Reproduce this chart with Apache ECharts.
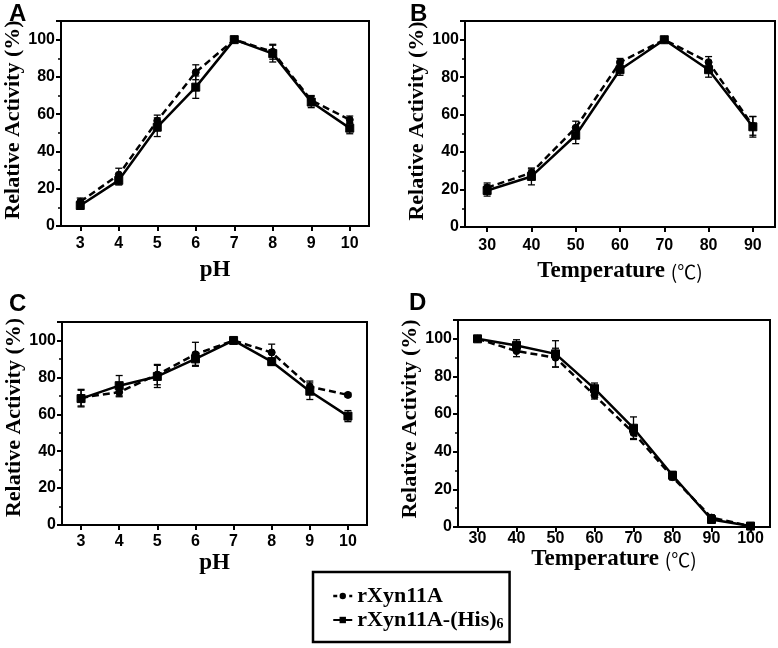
<!DOCTYPE html>
<html>
<head>
<meta charset="utf-8">
<script src="https://cdn.jsdelivr.net/npm/echarts@6/dist/echarts.min.js"></script>
<style>
  html, body { margin: 0; padding: 0; background: #fff; }
  #chart { width: 778px; height: 648px; }
</style>
</head>
<body>
<div id="chart"></div>
<script>
// ---- Data ----
const phCats = ['3', '4', '5', '6', '7', '8', '9', '10'];
const tempCatsB = ['30', '40', '50', '60', '70', '80', '90'];
const tempCatsD = ['30', '40', '50', '60', '70', '80', '90', '100'];
const yTicks = [0, 20, 40, 60, 80, 100];

// A: optimum pH
const A_native = [13, 27.5, 56.5, 82.5, 100, 93.5, 67.5, 57];
const A_nativeErr = [2, 3.5, 3, 4, 0.5, 4, 2.5, 2];
const A_his = [11, 24.5, 53, 74.5, 100, 92.5, 66.5, 52.5];
const A_hisErr = [2, 2.5, 5, 6, 0.5, 4.5, 3, 3];

// B: optimum temperature
const B_native = [21, 29, 53, 88, 100, 88, 54];
const B_nativeErr = [2.5, 2, 3.5, 2, 0.5, 3, 5];
const B_his = [19.5, 27, 49, 84, 100, 84, 53.5];
const B_hisErr = [3, 4.5, 4.5, 3, 0.5, 4, 5.5];

// C: pH stability
const C_native = [69, 72, 81.5, 92.5, 100, 93.5, 75, 70.5];
const C_nativeErr = [4.5, 2.5, 5.5, 6.5, 0.5, 4.5, 3, 1];
const C_his = [68.5, 75.5, 80.5, 90, 100, 88.5, 72.5, 59];
const C_hisErr = [4.5, 5.5, 6, 3.5, 0.5, 2, 4.5, 3];

// D: thermostability
const D_native = [100, 93.5, 90, 70, 50, 26.5, 5, 0.5];
const D_nativeErr = [0.5, 3, 5, 2, 3, 1.5, 1.5, 0.5];
const D_his = [100, 96.5, 92, 73.5, 52.5, 27.5, 4, 0.5];
const D_hisErr = [0.5, 3, 7, 3, 6, 2, 1.5, 0.5];

const NAME_NATIVE = 'rXyn11A';
const NAME_HIS = 'rXyn11A-(His)6';

// ---- Layout ----
const SERIF = '"Liberation Serif", "Times New Roman", Times, serif';
const SANS = '"Liberation Sans", Arial, Helvetica, sans-serif';

const panels = [
  { letter: 'A', cats: phCats, xName: 'pH', native: A_native, nErr: A_nativeErr, his: A_his, hErr: A_hisErr,
    grid: { left: 61, top: 21, width: 308, height: 205 }, labelMargin: 10, nameGap: 33, yGap: 20, yShift: 7, letterPos: [9, 2] },
  { letter: 'B', cats: tempCatsB, xName: 'Temperature {c|(℃)}', native: B_native, nErr: B_nativeErr, his: B_his, hErr: B_hisErr,
    grid: { left: 465, top: 21, width: 310, height: 206 }, labelMargin: 11, nameGap: 33, yGap: 29, yShift: 6, letterPos: [410, 2] },
  { letter: 'C', cats: phCats, xName: 'pH', native: C_native, nErr: C_nativeErr, his: C_his, hErr: C_hisErr,
    grid: { left: 62, top: 322, width: 305, height: 203 }, labelMargin: 9, nameGap: 27, yGap: 22, yShift: 12, letterPos: [9, 292] },
  { letter: 'D', cats: tempCatsD, xName: 'Temperature {c|(℃)}', native: D_native, nErr: D_nativeErr, his: D_his, hErr: D_hisErr,
    grid: { left: 458, top: 320, width: 312, height: 207 }, labelMargin: 4, nameGap: 20, yGap: 22, yShift: 9, letterPos: [409, 291] }
];

function errorRender(params, api) {
  const x = api.value(0), y = api.value(1), e = api.value(2);
  const top = api.coord([x, y + e]);
  const bot = api.coord([x, y - e]);
  const w = 3.5;
  const st = { stroke: '#000', lineWidth: 1.3 };
  return {
    type: 'group',
    children: [
      { type: 'line', shape: { x1: top[0], y1: top[1], x2: bot[0], y2: bot[1] }, style: st },
      { type: 'line', shape: { x1: top[0] - w, y1: top[1], x2: top[0] + w, y2: top[1] }, style: st },
      { type: 'line', shape: { x1: bot[0] - w, y1: bot[1], x2: bot[0] + w, y2: bot[1] }, style: st }
    ]
  };
}

const grids = [], xAxes = [], yAxes = [], series = [], titles = [];
panels.forEach((p, i) => {
  grids.push(Object.assign({ show: true, borderColor: '#000', borderWidth: 2, backgroundColor: '#fff',
    containLabel: false, outerBoundsMode: 'none' }, p.grid));
  titles.push({ text: p.letter, left: p.letterPos[0], top: p.letterPos[1], padding: 0,
    textStyle: { fontFamily: SANS, fontWeight: 'bold', fontSize: 24, color: '#000' } });
  xAxes.push({
    gridIndex: i, type: 'category', data: p.cats, boundaryGap: true,
    name: p.xName, nameLocation: 'middle', nameGap: p.nameGap,
    nameTextStyle: { fontFamily: SERIF, fontWeight: 'bold', fontSize: 23, color: '#000',
      rich: { c: { fontFamily: '"Noto Sans CJK SC", "DejaVu Sans", sans-serif', fontWeight: 'normal', fontSize: 19, color: '#000' } } },
    axisLine: { show: true, lineStyle: { color: '#000', width: 2 } },
    axisTick: { show: true, alignWithLabel: true, inside: false, length: 5, lineStyle: { color: '#000', width: 2 } },
    axisLabel: { show: true, margin: p.labelMargin, color: '#000', fontFamily: SANS, fontWeight: 'bold', fontSize: 16 },
    splitLine: { show: false }
  });
  yAxes.push({
    gridIndex: i, type: 'value', min: 0, max: 110, interval: 20,
    name: 'Relative Activity (%)', nameLocation: 'middle', nameGap: p.yGap,
    nameTextStyle: { fontFamily: SERIF, fontWeight: 'bold', fontSize: 22, color: '#000', padding: [0, 0, 0, p.yShift] },
    axisLine: { show: true, lineStyle: { color: '#000', width: 2 } },
    axisTick: { show: true, inside: false, length: 5, lineStyle: { color: '#000', width: 2 } },
    minorTick: { show: true, splitNumber: 2, length: 3, lineStyle: { color: '#000', width: 1.5 } },
    axisLabel: { show: true, margin: 6, color: '#000', fontFamily: SANS, fontWeight: 'bold', fontSize: 16,
      showMaxLabel: false, formatter: v => (yTicks.indexOf(v) >= 0 ? String(v) : '') },
    splitLine: { show: false }, minorSplitLine: { show: false }
  });
  // error bars
  series.push({
    type: 'custom', name: 'err-native-' + p.letter, xAxisIndex: i, yAxisIndex: i, z: 2,
    renderItem: errorRender, encode: { x: 0, y: 1 }, silent: true,
    data: p.native.map((v, k) => [k, v, p.nErr[k]])
  });
  series.push({
    type: 'custom', name: 'err-his-' + p.letter, xAxisIndex: i, yAxisIndex: i, z: 2,
    renderItem: errorRender, encode: { x: 0, y: 1 }, silent: true,
    data: p.his.map((v, k) => [k, v, p.hErr[k]])
  });
  series.push({
    type: 'line', name: NAME_NATIVE, xAxisIndex: i, yAxisIndex: i, z: 3,
    data: p.native, symbol: 'circle', symbolSize: 7, showAllSymbol: true,
    lineStyle: { color: '#000', width: 2.5, type: [7, 4] },
    itemStyle: { color: '#000', borderColor: '#000' }, animation: false
  });
  series.push({
    type: 'line', name: NAME_HIS, xAxisIndex: i, yAxisIndex: i, z: 4,
    data: p.his, symbol: 'rect', symbolSize: 8, showAllSymbol: true,
    lineStyle: { color: '#000', width: 2.5, type: 'solid' },
    itemStyle: { color: '#000', borderColor: '#000' }, animation: false
  });
});

const option = {
  backgroundColor: '#fff',
  animation: false,
  title: titles,
  grid: grids,
  xAxis: xAxes,
  yAxis: yAxes,
  legend: {
    data: [
      { name: NAME_NATIVE, lineStyle: { type: [4, 4], dashOffset: 0, width: 2.5, color: '#000' } },
      { name: NAME_HIS }
    ],
    orient: 'vertical', left: 313, top: 572,
    padding: [13, 6, 11, 19], itemGap: 2,
    itemWidth: 19, itemHeight: 8,
    borderColor: '#000', borderWidth: 2.5, borderRadius: 0,
    backgroundColor: '#fff',
    selectedMode: false,
    formatter: name => name === NAME_HIS ? '{n|rXyn11A-(His)}{s|6}' : '{n|rXyn11A}',
    textStyle: {
      color: '#000',
      rich: {
        n: { fontFamily: SERIF, fontWeight: 'bold', fontSize: 22, lineHeight: 22, color: '#000' },
        s: { fontFamily: SERIF, fontWeight: 'bold', fontSize: 14, lineHeight: 14, verticalAlign: 'bottom', padding: [0, 0, 0, 0], color: '#000' }
      }
    }
  },
  series: series
};

const chart = echarts.init(document.getElementById('chart'), null, { renderer: 'canvas' });
chart.setOption(option);
</script>
</body>
</html>
